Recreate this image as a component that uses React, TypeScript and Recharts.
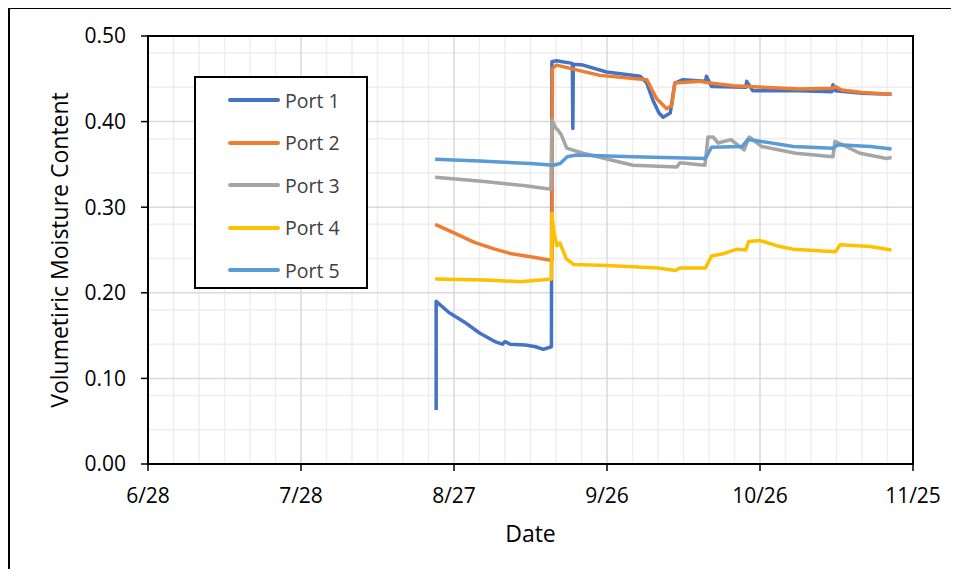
import React from 'react';
import { LineChart, Line, XAxis, YAxis, CartesianGrid, Legend, ReferenceArea } from 'recharts';

// days counted from 6/28
const dateTicks = [0, 30, 60, 90, 120, 150];
const dateLabels = ['6/28', '7/28', '8/27', '9/26', '10/26', '11/25'];
const moistureTicks = [0, 0.1, 0.2, 0.3, 0.4, 0.5];
const minorDays = [5, 10, 15, 20, 25, 35, 40, 45, 50, 55, 65, 70, 75, 80, 85, 95, 100, 105, 110, 115, 125, 130, 135, 140, 145];
const minorMoisture = [0.02, 0.04, 0.06, 0.08, 0.12, 0.14, 0.16, 0.18, 0.22, 0.24, 0.26, 0.28, 0.32, 0.34, 0.36, 0.38, 0.42, 0.44, 0.46, 0.48];

const port1: [number, number][] = [
  [56.5, 0.063], [56.5, 0.19], [59, 0.177], [62, 0.166], [65, 0.153], [68, 0.143], [69.5, 0.14], [70, 0.143],
  [71, 0.14], [74, 0.139], [76, 0.137], [77.5, 0.134], [79.1, 0.137], [79.2, 0.47], [80.1, 0.471], [83.2, 0.468],
  [83.3, 0.392], [83.4, 0.467], [85.3, 0.466], [89.9, 0.458], [96.5, 0.453], [97.8, 0.445], [99, 0.425],
  [100.2, 0.41], [101, 0.405], [102.4, 0.41], [103.3, 0.445], [104.9, 0.449], [109.3, 0.447], [109.5, 0.453],
  [110.5, 0.441], [117.2, 0.44], [117.4, 0.447], [118.6, 0.436], [127.8, 0.436], [134.1, 0.435], [134.3, 0.443],
  [134.8, 0.436], [140, 0.433], [145.8, 0.432],
];
const port2: [number, number][] = [
  [56.3, 0.28], [60, 0.27], [64, 0.259], [68, 0.251], [71, 0.246], [75, 0.242], [79, 0.238], [79.2, 0.238],
  [79.3, 0.462], [80.1, 0.466], [88.6, 0.454], [97.8, 0.449], [99.7, 0.427], [101.7, 0.415], [102.7, 0.419],
  [103.3, 0.445], [108.2, 0.447], [110.2, 0.445], [114.7, 0.442], [127.8, 0.438], [134.3, 0.439], [134.8, 0.441],
  [136, 0.437], [140, 0.434], [145.8, 0.432],
];
const port3: [number, number][] = [
  [56.3, 0.335], [66, 0.33], [74, 0.325], [79, 0.321], [79.2, 0.402], [80, 0.392], [80.4, 0.39], [81, 0.385],
  [82.1, 0.369], [85.3, 0.363], [95.1, 0.349], [103.7, 0.347], [104.3, 0.352], [109.2, 0.349], [109.8, 0.382],
  [110.8, 0.382], [111.8, 0.375], [114.3, 0.379], [116.9, 0.367], [117.9, 0.382], [120.3, 0.371], [127, 0.363],
  [134.3, 0.359], [134.7, 0.377], [139.6, 0.363], [144.8, 0.357], [145.8, 0.358],
];
const port4: [number, number][] = [
  [56.3, 0.216], [66, 0.215], [73, 0.213], [77, 0.215], [79.1, 0.216], [79.2, 0.293], [79.6, 0.27], [80.2, 0.255],
  [80.8, 0.258], [82, 0.24], [83.5, 0.233], [90, 0.232], [100, 0.229], [103.4, 0.226], [104.3, 0.229],
  [109.3, 0.229], [110.5, 0.243], [113, 0.246], [115.5, 0.251], [117.2, 0.25], [117.8, 0.26], [120, 0.261],
  [123.9, 0.254], [126.5, 0.251], [134.8, 0.248], [135.7, 0.256], [141.6, 0.254], [145.8, 0.25],
];
const port5: [number, number][] = [
  [56.3, 0.356], [65, 0.354], [75, 0.351], [79.5, 0.349], [80.8, 0.351], [82.2, 0.359], [84, 0.361], [95, 0.359],
  [109.3, 0.357], [110.5, 0.37], [116.5, 0.371], [117.6, 0.379], [120, 0.377], [126.5, 0.371], [134.3, 0.369],
  [135.3, 0.373], [141.6, 0.371], [145.8, 0.368],
];

const seriesNames = ['Port 1', 'Port 2', 'Port 3', 'Port 4', 'Port 5'];
const seriesColors = ['#4472C4', '#ED7D31', '#A5A5A5', '#FFC000', '#5B9BD5'];
const seriesPoints = [port1, port2, port3, port4, port5];

const toRows = (pts: [number, number][]) => pts.map(([day, value]) => ({ day, value }));

const FONT = '"Open Sans", sans-serif';

const renderLegend = (props: any) => {
  const items = props.payload || [];
  return (
    <div style={{ width: 174, height: 213, boxSizing: 'border-box', border: '2px solid #000', background: '#fff', position: 'relative' }}>
      {items.map((it: any, i: number) => (
        <div key={it.value} style={{ position: 'absolute', left: 0, top: 22 + i * 42.5 - 14, height: 28, display: 'flex', alignItems: 'center' }}>
          <div style={{ marginLeft: 32, width: 52, height: 4, background: it.color, borderRadius: 2 }} />
          <span style={{ marginLeft: 5, fontSize: 19.5, color: '#404040', fontFamily: FONT }}>{it.value}</span>
        </div>
      ))}
    </div>
  );
};

const YTitle = (props: any) => {
  const vb = props.viewBox || { x: 88, y: 36, width: 60, height: 428 };
  const x = vb.x - 20;
  const y = vb.y + vb.height / 2;
  return (
    <text x={x} y={y} transform={`rotate(-90, ${x}, ${y})`} textAnchor="middle" fontSize={23} fill="#000" fontFamily={FONT}>
      Volumetiric Moisture Content
    </text>
  );
};

const XTitle = (props: any) => {
  const vb = props.viewBox || { x: 148, y: 464, width: 765, height: 60 };
  return (
    <text x={vb.x + vb.width / 2} y={vb.y + 78} textAnchor="middle" fontSize={23} fill="#000" fontFamily={FONT}>
      Date
    </text>
  );
};

export default function App() {
  return (
    <div style={{ position: 'relative', width: 959, height: 577, margin: -8, fontFamily: FONT }}>
      <div style={{ position: 'absolute', left: 8, top: 7, width: 951, height: 570, boxSizing: 'border-box', borderTop: '2px solid #000', borderLeft: '2px solid #000' }} />
      <div style={{ position: 'absolute', left: 0, top: 0 }}>
        <LineChart width={959} height={577} margin={{ top: 36, right: 46, bottom: 53, left: 88 }}>
          <CartesianGrid horizontalValues={minorMoisture} verticalValues={minorDays} stroke="#eeeeee" strokeWidth={1.5} />
          <CartesianGrid stroke="#d9d9d9" strokeWidth={1.5} />
          <XAxis
            dataKey="day"
            type="number"
            domain={[0, 150]}
            ticks={dateTicks}
            tickFormatter={(v: number) => dateLabels[dateTicks.indexOf(v)] ?? ''}
            allowDataOverflow
            height={60}
            tickSize={7}
            tickMargin={17}
            stroke="#000"
            axisLine={{ stroke: '#000', strokeWidth: 2 }}
            tickLine={{ stroke: '#000', strokeWidth: 1.5 }}
            tick={{ fill: '#000', fontSize: 21, fontFamily: FONT }}
            label={{ content: XTitle }}
          />
          <YAxis
            type="number"
            domain={[0, 0.5]}
            ticks={moistureTicks}
            tickFormatter={(v: number) => v.toFixed(2)}
            allowDataOverflow
            width={60}
            tickSize={7}
            tickMargin={15}
            axisLine={{ stroke: '#000', strokeWidth: 2 }}
            tickLine={{ stroke: '#000', strokeWidth: 1.5 }}
            tick={{ fill: '#000', fontSize: 21, fontFamily: FONT }}
            label={{ content: YTitle }}
          />
          <ReferenceArea x1={0} x2={150} y1={0} y2={0.5} fill="none" stroke="#000" strokeWidth={2} />
          {seriesPoints.map((pts, i) => (
            <Line
              key={seriesNames[i]}
              data={toRows(pts)}
              dataKey="value"
              name={seriesNames[i]}
              stroke={seriesColors[i]}
              strokeWidth={3.5}
              strokeLinejoin="round"
              dot={false}
              activeDot={false}
              isAnimationActive={false}
            />
          ))}
          <Legend
            layout="horizontal"
            verticalAlign="middle"
            align="center"
            content={renderLegend}
            wrapperStyle={{ left: 194, top: 76, width: 174, height: 213 }}
          />
        </LineChart>
      </div>
    </div>
  );
}
